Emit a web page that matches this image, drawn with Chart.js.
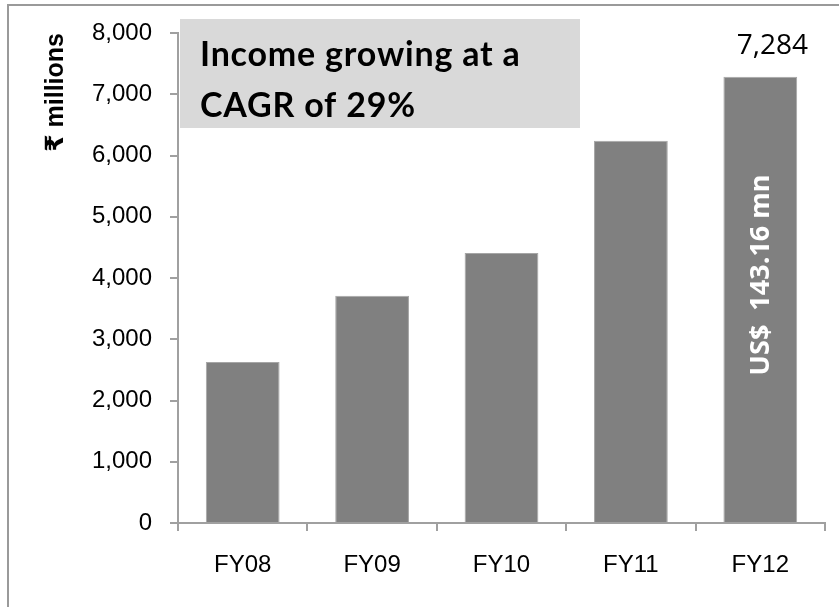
<!DOCTYPE html>
<html>
<head>
<meta charset="utf-8">
<script src="https://cdn.jsdelivr.net/npm/chart.js@4"></script>
<style>
  html, body { margin: 0; padding: 0; background: #fff; }
  canvas { display: block; }
</style>
</head>
<body>
<canvas id="incomeChart" width="839" height="607"></canvas>
<script>
// Income by financial year, Rs. millions
const years = ['FY08', 'FY09', 'FY10', 'FY11', 'FY12'];
const income = [2630, 3710, 4410, 6240, 7284];
const yTicks = [0, 1000, 2000, 3000, 4000, 5000, 6000, 7000, 8000];

const axisGray = '#a0a0a0';

// frame, callout box and the two labels on the last bar
const extras = {
  id: 'extras',
  beforeDraw(chart) {
    const ctx = chart.ctx;
    ctx.save();
    ctx.fillStyle = '#fff';
    ctx.fillRect(0, 0, chart.width, chart.height);
    ctx.strokeStyle = '#9a9a9a';
    ctx.lineWidth = 2;
    ctx.strokeRect(8, 5, chart.width + 20, chart.height + 20);
    ctx.restore();
  },
  afterDatasetsDraw(chart) {
    const ctx = chart.ctx;
    const meta = chart.getDatasetMeta(0);
    const last = meta.data[meta.data.length - 1];
    const base = chart.scales.y.getPixelForValue(0);

    ctx.save();
    // value label above FY12
    ctx.fillStyle = '#000';
    ctx.font = '28px "Open Sans"';
    ctx.textAlign = 'center';
    ctx.textBaseline = 'alphabetic';
    ctx.fillText(income[income.length - 1].toLocaleString('en-US'), last.x + 12, last.y - 23);

    // USD note inside the bar
    ctx.translate(last.x + 1, (last.y + base) / 2 - 25);
    ctx.rotate(-Math.PI / 2);
    ctx.fillStyle = '#fff';
    ctx.font = 'bold 27px "Open Sans"';
    ctx.textBaseline = 'middle';
    ctx.fillText('US$  143.16 mn', 0, 0);
    ctx.restore();

    // callout box
    ctx.save();
    ctx.fillStyle = '#d9d9d9';
    ctx.fillRect(180, 19, 400, 109);
    ctx.fillStyle = '#000';
    ctx.font = 'bold 34px Lato';
    ctx.letterSpacing = '0.8px';
    ctx.textAlign = 'left';
    ctx.textBaseline = 'alphabetic';
    ctx.fillText('Income growing at a', 200, 66);
    ctx.fillText('CAGR of 29%', 200, 117);
    ctx.restore();
  }
};

new Chart(document.getElementById('incomeChart'), {
  type: 'bar',
  data: {
    labels: years,
    datasets: [{
      label: 'Income',
      data: income,
      backgroundColor: '#808080',
      borderColor: '#a6a6a6',
      borderWidth: 1,
      categoryPercentage: 1,
      barPercentage: 0.57
    }]
  },
  options: {
    responsive: false,
    animation: false,
    layout: { padding: { left: 0, right: 14, top: 33, bottom: 0 } },
    plugins: {
      legend: { display: false },
      tooltip: { enabled: false }
    },
    scales: {
      x: {
        afterFit(scale) { scale.height = 84; },
        grid: {
          offset: true,
          drawOnChartArea: false,
          tickLength: 8,
          color: axisGray,
          lineWidth: 2
        },
        border: { color: axisGray, width: 2 },
        ticks: {
          color: '#000',
          padding: 20,
          font: { family: '"Liberation Sans", Arial', size: 24 }
        }
      },
      y: {
        min: 0,
        max: 8000,
        afterFit(scale) { scale.width = 178; },
        afterBuildTicks(scale) { scale.ticks = yTicks.map(v => ({ value: v })); },
        grid: {
          drawOnChartArea: false,
          tickLength: 8,
          color: axisGray,
          lineWidth: 2
        },
        border: { color: axisGray, width: 2 },
        ticks: {
          color: '#000',
          padding: 18,
          font: { family: '"Liberation Sans", Arial', size: 24 },
          callback: v => v.toLocaleString('en-US')
        },
        title: {
          display: true,
          text: '₹ millions',
          align: 'end',
          color: '#000',
          padding: { top: 41, bottom: 0 },
          font: { family: '"Liberation Sans", "DejaVu Sans", Arial', size: 25, weight: 'bold' }
        }
      }
    }
  },
  plugins: [extras]
});
</script>
</body>
</html>
